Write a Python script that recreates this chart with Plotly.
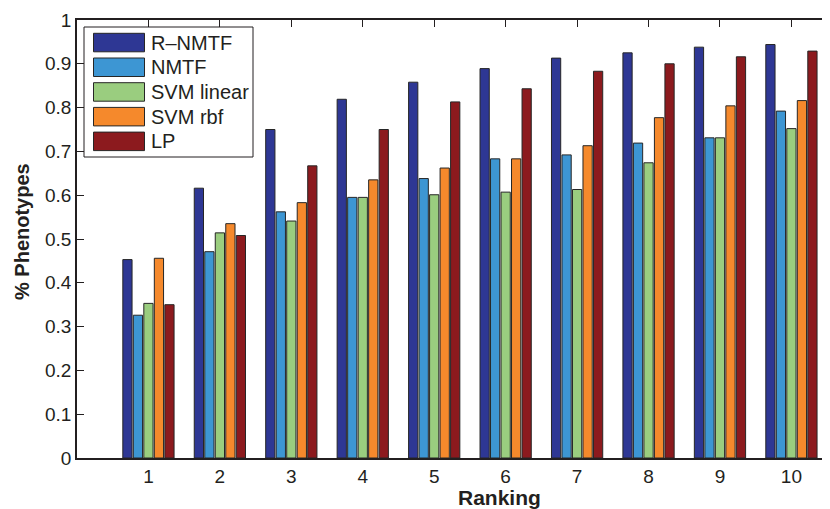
import plotly.graph_objects as go

rankings = [1, 2, 3, 4, 5, 6, 7, 8, 9, 10]
tick_labels = ["1", "2", "3", "4", "5", "6", "7", "8", "9", "10"]
series_names = ["R\u2013NMTF", "NMTF", "SVM linear", "SVM rbf", "LP"]

r_nmtf = [0.453, 0.616, 0.750, 0.819, 0.858, 0.889, 0.913, 0.925, 0.938, 0.944]
nmtf = [0.326, 0.471, 0.562, 0.595, 0.638, 0.683, 0.692, 0.719, 0.731, 0.792]
svm_linear = [0.353, 0.514, 0.541, 0.595, 0.601, 0.607, 0.613, 0.674, 0.731, 0.752]
svm_rbf = [0.456, 0.535, 0.583, 0.635, 0.662, 0.683, 0.713, 0.777, 0.804, 0.816]
lp = [0.350, 0.508, 0.667, 0.750, 0.813, 0.843, 0.883, 0.900, 0.916, 0.929]

series_values = [r_nmtf, nmtf, svm_linear, svm_rbf, lp]
colors = ["#2E3794", "#3D96D3", "#9ACD7F", "#F5892C", "#8C1A1E"]

FONT = "Liberation Sans, Arial, Helvetica, sans-serif"
INK = "#231F20"

# the page body has an 8px margin, so the figure starts at (8, 8) in the window
OFF = 8
W, H = 830 - OFF, 509 - OFF
ML, MR, MT, MB = 77 - OFF, 0, 20 - OFF, 509 - 458
PW, PH = W - ML - MR, H - MT - MB

fig = go.Figure()
for name, vals, col in zip(series_names, series_values, colors):
    fig.add_trace(go.Bar(
        x=rankings, y=vals, name=name,
        marker=dict(color=col, line=dict(color="#262626", width=1)),
        showlegend=False,
    ))


def px_x(p):
    """window pixel x -> paper coordinate"""
    return (p - OFF - ML) / PW


def px_y(p):
    """window pixel y -> paper coordinate"""
    return (H + OFF - MB - p) / PH


shapes = []
annotations = []
# custom legend (large swatches like the original)
shapes.append(dict(type="rect", xref="paper", yref="paper",
                   x0=px_x(84), x1=px_x(253), y0=px_y(157), y1=px_y(27),
                   line=dict(color=INK, width=1), fillcolor="white", layer="above"))
row_top = 33.3
row_step = 24.7
sw_h = 18.5
for i, (name, col) in enumerate(zip(series_names, colors)):
    top = row_top + i * row_step
    shapes.append(dict(type="rect", xref="paper", yref="paper",
                       x0=px_x(93.5), x1=px_x(144.5), y0=px_y(top + sw_h), y1=px_y(top),
                       line=dict(color="#262626", width=1), fillcolor=col, layer="above"))
    annotations.append(dict(xref="paper", yref="paper", x=px_x(149), y=px_y(top + sw_h / 2),
                            text=name, showarrow=False, xanchor="left", yanchor="middle",
                            font=dict(family=FONT, size=20, color=INK)))

# axis titles placed as annotations for exact positioning
annotations.append(dict(xref="paper", yref="paper", x=px_x(500), y=px_y(497.5),
                        text="<b>Ranking</b>", showarrow=False, xanchor="center", yanchor="middle",
                        font=dict(family=FONT, size=21, color=INK)))
annotations.append(dict(xref="paper", yref="paper", x=px_x(22), y=px_y(232),
                        text="<b>% Phenotypes</b>", showarrow=False, xanchor="center", yanchor="middle",
                        textangle=-90, font=dict(family=FONT, size=20, color=INK)))

fig.update_layout(
    width=W, height=H,
    margin=dict(l=ML, r=MR, t=MT, b=MB, pad=0),
    paper_bgcolor="white", plot_bgcolor="white",
    barmode="group", bargap=0.265, bargroupgap=0.12,
    font=dict(family=FONT, size=19, color=INK),
    shapes=shapes, annotations=annotations,
    xaxis=dict(
        range=[0, 10.54], tickmode="array", tickvals=rankings, ticktext=tick_labels,
        ticks="inside", ticklen=7, tickcolor=INK, tickwidth=1,
        showline=True, linecolor=INK, linewidth=1.5, mirror="ticks",
        showgrid=False, zeroline=False, layer="below traces", automargin=False,
        tickfont=dict(family=FONT, size=19, color=INK), ticklabelstandoff=0,
    ),
    yaxis=dict(
        range=[0, 1], tickmode="array",
        tickvals=[0, 0.1, 0.2, 0.3, 0.4, 0.5, 0.6, 0.7, 0.8, 0.9, 1],
        ticktext=["0", "0.1", "0.2", "0.3", "0.4", "0.5", "0.6", "0.7", "0.8", "0.9", "1"],
        ticks="inside", ticklen=7, tickcolor=INK, tickwidth=1,
        showline=True, linecolor=INK, linewidth=1.5, mirror=False,
        showgrid=False, zeroline=False, layer="below traces", automargin=False,
        tickfont=dict(family=FONT, size=19, color=INK), ticklabelstandoff=0,
    ),
)

fig.write_html("out.html")
